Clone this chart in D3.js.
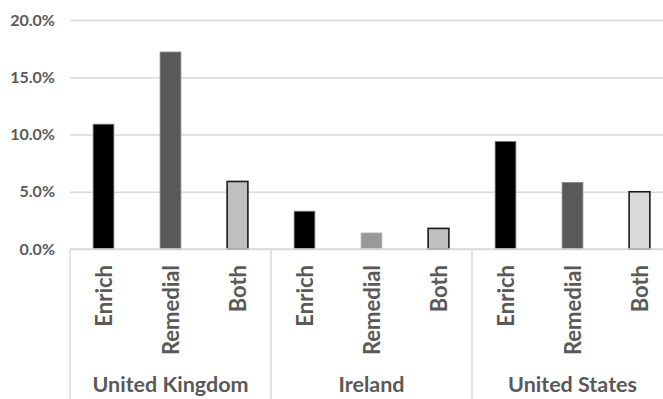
<!DOCTYPE html>
<html>
<head>
<meta charset="utf-8">
<script src="https://cdn.jsdelivr.net/npm/d3@7"></script>
<style>
  html, body { margin: 0; padding: 0; background: #fff; }
  svg { display: block; }
  text { font-family: Lato, "Open Sans", sans-serif; font-weight: bold; fill: #595959; }
</style>
</head>
<body>
<svg id="chart" width="663" height="399"></svg>
<script>
// Share of students by programme type, per country (percent)
const countries = ["United Kingdom", "Ireland", "United States"];
const types = ["Enrich", "Remedial", "Both"];
const enrich = [10.9, 3.3, 9.4];
const remedial = [17.2, 1.4, 5.8];
const both = [5.9, 1.8, 5.0];
const yTicks = [0, 5, 10, 15, 20];

const seriesByType = { Enrich: enrich, Remedial: remedial, Both: both };

// Bar fills and outlines, per type and country
const fills = {
  Enrich:   ["#000000", "#000000", "#000000"],
  Remedial: ["#595959", "#999999", "#595959"],
  Both:     ["#bfbfbf", "#bfbfbf", "#d9d9d9"]
};
const strokes = {
  Enrich:   ["#7f7f7f", "#7f7f7f", "#7f7f7f"],
  Remedial: ["#808080", "#b0b0b0", "#808080"],
  Both:     ["#1a1a1a", "#1a1a1a", "#1a1a1a"]
};
const strokeWidths = { Enrich: 0.8, Remedial: 0.8, Both: 1.6 };

const svg = d3.select("#chart");
const plotLeft = 70, plotRight = 673, plotTop = 20, baseY = 249, plotBottom = 399;

const x0 = d3.scaleBand().domain(countries).range([plotLeft, plotRight]).padding(0);
const x1 = d3.scaleBand().domain(types).range([0, x0.bandwidth()])
  .paddingInner(0.69).paddingOuter(0.345);
const y = d3.scaleLinear().domain([0, 20]).range([baseY, plotTop]);

// Gridlines and value axis labels
const yAxis = d3.axisLeft(y).tickValues(yTicks)
  .tickSize(-(plotRight - plotLeft)).tickPadding(15)
  .tickFormat(d => d3.format(".1f")(d) + "%");
const ga = svg.append("g").attr("transform", `translate(${plotLeft},0)`).call(yAxis);
ga.select(".domain").remove();
ga.selectAll(".tick line").attr("stroke", "#d9d9d9").attr("stroke-width", 1.5);
ga.selectAll(".tick text").attr("font-size", 16).style("fill", "#595959")
  .style("font-family", "Lato, 'Open Sans', sans-serif").style("font-weight", "bold");

// Bars
const rows = [];
countries.forEach((c, i) => types.forEach(t => rows.push({ c, i, t, v: seriesByType[t][i] })));
svg.append("g").selectAll("rect").data(rows).join("rect")
  .attr("x", d => x0(d.c) + x1(d.t))
  .attr("width", x1.bandwidth())
  .attr("y", d => y(d.v))
  .attr("height", d => y(0) - y(d.v))
  .attr("fill", d => fills[d.t][d.i])
  .attr("stroke", d => strokes[d.t][d.i])
  .attr("stroke-width", d => strokeWidths[d.t]);

// Category axis frame: baseline and group separators
const frame = svg.append("g").attr("stroke", "#d9d9d9").attr("stroke-width", 1.5);
frame.append("line").attr("x1", plotLeft).attr("x2", plotRight).attr("y1", baseY).attr("y2", baseY);
const seps = countries.map(c => x0(c)).concat([plotRight]);
frame.selectAll("line.sep").data(seps).join("line").attr("class", "sep")
  .attr("x1", d => d).attr("x2", d => d).attr("y1", baseY).attr("y2", plotBottom);

// Rotated type labels
countries.forEach(c => {
  svg.append("g").selectAll("text").data(types).join("text")
    .attr("transform", t => `translate(${x0(c) + x1(t) + x1.bandwidth() / 2 + 8},${baseY + 16}) rotate(-90)`)
    .attr("text-anchor", "end")
    .attr("font-size", 22)
    .text(t => t);
});

// Country labels
svg.append("g").selectAll("text").data(countries).join("text")
  .attr("x", c => x0(c) + x0.bandwidth() / 2)
  .attr("y", 392)
  .attr("text-anchor", "middle")
  .attr("font-size", 21.5)
  .text(c => c);
</script>
</body>
</html>
